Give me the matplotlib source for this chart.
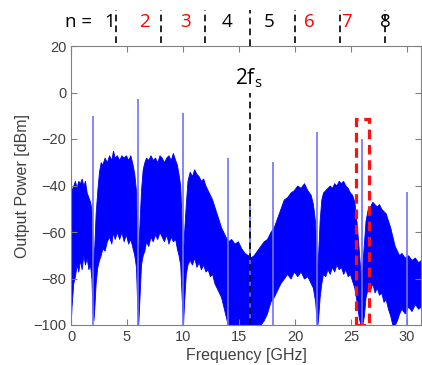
import matplotlib
matplotlib.use("Agg")
import matplotlib.pyplot as plt
import matplotlib.transforms as mtransforms
from matplotlib.patches import Rectangle
import numpy as np

# spectrum envelope (GHz, dBm)
freq = [0.0, 0.05, 0.2, 0.35, 0.5, 0.65, 0.8, 0.95, 1.1, 1.25, 1.4, 1.55, 1.7, 1.82, 1.92, 2.0, 2.08, 2.2,
        2.35, 2.5, 2.65, 2.8, 3.0, 3.2, 3.4, 3.6, 3.75, 3.9, 4.1, 4.3, 4.5, 4.7, 4.9, 5.1, 5.3, 5.5, 5.65, 5.8, 5.9, 6.0, 6.1,
        6.25, 6.4, 6.55, 6.7, 6.9, 7.1, 7.3, 7.5, 7.7, 7.9, 8.1, 8.3, 8.5, 8.7, 8.9, 9.1, 9.3, 9.45, 9.6, 9.75, 9.9, 10.0, 10.1,
        10.25, 10.4, 10.6, 10.8, 11.0, 11.2, 11.4, 11.6, 11.8, 12.0, 12.2, 12.4, 12.6, 12.8, 13.0, 13.2, 13.4, 13.6, 13.8,
        14.0, 14.3, 14.6, 14.9, 15.2, 15.5, 15.8, 16.0,
        16.3, 16.6, 16.9, 17.2, 17.5, 17.8, 18.1, 18.4, 18.7, 19.0, 19.3, 19.6, 19.9, 20.2, 20.5, 20.8, 21.1, 21.4, 21.6,
        21.8, 21.92, 22.0, 22.08,
        22.2, 22.35, 22.5, 22.7, 22.9, 23.1, 23.3, 23.5, 23.7, 23.9, 24.1, 24.3, 24.5, 24.7, 24.9, 25.1, 25.3, 25.5, 25.7,
        25.85, 26.0, 26.15,
        26.3, 26.5, 26.7, 26.9, 27.1, 27.3, 27.5, 27.7, 27.9, 28.1, 28.3, 28.5, 28.7, 28.9, 29.1, 29.3, 29.5, 29.8, 30.1,
        30.4, 30.7, 31.0, 31.25]
upper = [-62, -42, -40, -38, -41, -38, -39, -37, -40, -38, -43, -45, -47, -50, -68, -72, -66, -52,
         -42, -34, -30, -31, -28, -30, -27, -29, -25, -28, -27, -29, -27, -28, -27, -29, -27, -31, -35, -42, -60, -70, -58,
         -42, -33, -30, -28, -29, -27, -29, -28, -30, -27, -28, -30, -28, -27, -29, -26, -29, -31, -35, -40, -58, -70, -60,
         -48, -38, -34, -36, -33, -35, -36, -38, -37, -40, -42, -44, -46, -49, -52, -55, -58, -60, -62,
         -64, -63, -65, -64, -67, -69, -70, -71,
         -70, -68, -66, -64, -63, -60, -58, -54, -50, -46, -45, -43, -42, -40, -41, -39, -42, -44, -48,
         -56, -70, -75, -68,
         -55, -46, -43, -42, -41, -40, -41, -39, -40, -38, -39, -38, -40, -41, -43, -44, -47, -56, -68,
         -78, -75, -65,
         -55, -50, -49, -47, -48, -49, -48, -50, -51, -52, -55, -58, -62, -66, -68, -70, -69, -71, -70,
         -72, -71, -73, -72]
lower = [-97, -92, -82, -79, -74, -77, -72, -76, -70, -74, -71, -76, -74, -80, -94, -98, -93, -82,
         -75, -72, -70, -67, -68, -64, -62, -65, -60, -63, -60, -63, -60, -64, -61, -65, -63, -67, -70, -75, -90, -100, -90,
         -74, -70, -68, -64, -66, -62, -64, -61, -63, -60, -62, -64, -61, -65, -62, -64, -63, -67, -70, -74, -90, -100, -90,
         -78, -74, -72, -74, -71, -75, -73, -76, -74, -77, -76, -79, -78, -82, -84, -86, -88, -92, -96,
         -100, -100, -100, -100, -100, -100, -100, -100,
         -100, -100, -100, -98, -95, -90, -88, -85, -82, -80, -78, -80, -77, -79, -77, -80, -79, -82, -84,
         -90, -98, -100, -96,
         -88, -82, -78, -79, -76, -78, -75, -77, -74, -76, -75, -78, -76, -79, -78, -81, -84, -90, -97,
         -100, -100, -96,
         -88, -84, -85, -82, -86, -84, -87, -86, -90, -89, -93, -96, -100, -100, -98, -95, -93, -95, -92,
         -94, -91, -93, -92]

# discrete spurs
spur_freq = [2, 6, 10, 14, 16, 18, 22, 26, 30]
spur_top = [-10, -3, -9, -28, -48, -30, -17, -20, -43]

# harmonic zones
zone_bounds = [4, 8, 12, 16, 20, 24, 28]
zone_labels = ["1", "2", "3", "4", "5", "6", "7", "8"]
zone_label_x = [3.45, 6.55, 10.2, 13.9, 17.65, 21.3, 24.6, 28.1]
zone_colors = ["black", "red", "red", "black", "black", "red", "red", "black"]

W, H = 422, 365
fig = plt.figure(figsize=(W / 100, H / 100), dpi=100)
ax = fig.add_axes([71 / W, 1 - 325 / H, 350 / W, 279 / H])

gray = "#404040"
tickfont = "Liberation Sans"
notefont = ["Open Sans", "DejaVu Sans"]
ax.fill_between(freq, lower, upper, color="#0000ff", lw=0.6, edgecolor="#0000ff")
ax.vlines(spur_freq, -100, spur_top, color="#7070ff", lw=1.2)

ax.set_xlim(0, 31.25)
ax.set_ylim(-100, 20)
ax.set_xticks([0, 5, 10, 15, 20, 25, 30])
ax.set_yticks(np.arange(-100, 21, 20))
ax.tick_params(direction="in", length=4, top=True, right=True,
               labelsize=10.5, colors="#808080", labelcolor=gray)
for lab in ax.get_xticklabels() + ax.get_yticklabels():
    lab.set_family(tickfont)
for s in ax.spines.values():
    s.set_color("#808080")
ax.set_xlabel("Frequency [GHz]", fontsize=11.5, color=gray, labelpad=3,
              family=tickfont)
ax.set_ylabel("Output Power [dBm]", fontsize=11.5, color=gray, labelpad=2,
              family=tickfont)

# highlighted band
ax.add_patch(Rectangle((25.45, -100), 1.15, 88.5, fill=False, ec="#ff1010",
                       lw=2.3, ls=(0, (3, 1.8)), zorder=5))

# zone separators above the axes
trans = mtransforms.blended_transform_factory(ax.transData, fig.transFigure)
y0, y1 = 1 - 43 / H, 1 - 10 / H
for b in zone_bounds:
    if b == 16:
        continue
    ax.plot([b, b], [y0, y1], transform=trans, color="black", lw=1.2,
            ls=(0, (4, 2.5)), clip_on=False)
ax.plot([16, 16], [1 - 46 / H, y1], transform=trans, color="black", lw=1.2,
        ls=(0, (4, 2.5)), clip_on=False)
ax.plot([16, 16], [-100, 0], color="black", lw=1.2, ls=(0, (4, 2.5)), zorder=6)

ax.text(15.9, 6, r"2f$_\mathregular{s}$", ha="center", va="center", fontsize=15,
        color="black", zorder=7, family=notefont)

fig.text(1.85, 1 - 22 / H, "n =", transform=trans, ha="right", va="center",
         fontsize=13.5, family=notefont)
for lab, x, c in zip(zone_labels, zone_label_x, zone_colors):
    fig.text(x, 1 - 22 / H, lab, transform=trans, ha="center",
             va="center", fontsize=13.5, color=c, family=notefont)

fig.savefig("out.png", dpi=100)
